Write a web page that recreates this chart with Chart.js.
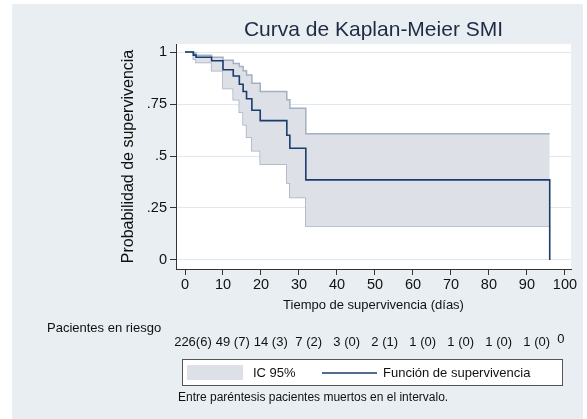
<!DOCTYPE html>
<html>
<head>
<meta charset="utf-8">
<script src="https://cdn.jsdelivr.net/npm/chart.js@4.4.1/dist/chart.umd.min.js"></script>
<style>
  html, body { margin: 0; padding: 0; background: #fff; }
  canvas { display: block; }
</style>
</head>
<body>
<canvas id="km" width="587" height="419"></canvas>
<script>
// Kaplan-Meier SMI, values
var survTime = [0, 2.2, 2.9, 7, 10, 12.7, 14.3, 15.3, 16.2, 17.6, 19.8, 26.8, 27.6, 31.8, 96];
var survProb = [1, 0.985, 0.975, 0.958, 0.915, 0.885, 0.845, 0.81, 0.775, 0.72, 0.67, 0.60, 0.537, 0.385, 0];

var ciTime  = [0, 2.2, 2.9, 7, 10, 12.7, 14.3, 15.3, 16.2, 17.6, 19.8, 26.8, 27.6, 31.8, 96];
var ciUpper = [1, 0.995, 0.985, 0.975, 0.96, 0.945, 0.93, 0.91, 0.89, 0.85, 0.81, 0.77, 0.73, 0.607, 0.607];
var ciLower = [1, 0.965, 0.95, 0.91, 0.825, 0.77, 0.71, 0.65, 0.59, 0.525, 0.46, 0.37, 0.30, 0.163, 0.163];

var xTicks = [0, 10, 20, 30, 40, 50, 60, 70, 80, 90, 100];
var yTicks = [0, 0.25, 0.5, 0.75, 1];
var yTickLabels = ['0', '.25', '.5', '.75', '1'];

// numbers at risk and deaths in each interval
var riskN = ['226', '49', '14', '7', '3', '2', '1', '1', '1', '1', '0'];
var riskDeaths = [6, 7, 3, 2, 0, 1, 0, 0, 0, 0, null];

var FONT = "'Liberation Sans', Arial, sans-serif";
var NAVY = '#1a3d6d';
var BAND = '#dde1e7';
var BAND_EDGE = '#a2b0c1';

function pts(xs, ys) {
  return xs.map(function (x, i) { return { x: x, y: ys[i] }; });
}

var frame = {
  id: 'frame',
  beforeDraw: function (chart) {
    var c = chart.ctx, a = chart.chartArea;
    c.save();
    c.fillStyle = '#e8eef1';
    c.fillRect(12, 4, 571, 415);
    c.fillStyle = '#fff';
    c.fillRect(a.left, a.top, a.right - a.left, a.bottom - a.top);
    c.restore();
  },
  afterDraw: function (chart) {
    var c = chart.ctx, xs = chart.scales.x;
    c.save();
    c.fillStyle = '#111';
    c.textBaseline = 'middle';
    c.font = '13px ' + FONT;
    c.textAlign = 'left';
    c.fillText('Pacientes en riesgo', 47, 328);

    for (var i = 0; i < riskN.length; i++) {
      var px = xs.getPixelForValue(xTicks[i]);
      var n = riskN[i];
      c.textAlign = 'center';
      if (riskDeaths[i] === null) {
        c.fillText(n, px - 4, 339);
        continue;
      }
      c.fillText(n, px, 342);
      var w = c.measureText(n).width;
      c.textAlign = 'left';
      c.fillText((i === 0 ? '' : ' ') + '(' + riskDeaths[i] + ')', px + w / 2, 342);
    }

    // legend box
    c.fillStyle = '#fff';
    c.fillRect(182, 359, 380, 26);
    c.strokeStyle = '#555';
    c.lineWidth = 1;
    c.strokeRect(182.5, 359.5, 380, 26);
    c.fillStyle = BAND;
    c.fillRect(187, 365, 56, 15);
    c.strokeStyle = NAVY;
    c.lineWidth = 1.5;
    c.beginPath();
    c.moveTo(322, 373);
    c.lineTo(377, 373);
    c.stroke();
    c.fillStyle = '#111';
    c.textAlign = 'left';
    c.fillText('IC 95%', 253, 373);
    c.fillText('Función de supervivencia', 383, 373);

    c.font = '12px ' + FONT;
    c.fillText('Entre paréntesis pacientes muertos en el intervalo.', 178, 398);
    c.restore();
  }
};

new Chart(document.getElementById('km'), {
  type: 'line',
  data: {
    datasets: [
      { label: 'Función de supervivencia', data: pts(survTime, survProb), borderColor: NAVY, borderWidth: 1.6,
        stepped: 'before', pointRadius: 0, fill: false },
      { label: 'IC 95% superior', data: pts(ciTime, ciUpper), borderColor: BAND_EDGE, borderWidth: 1.5,
        stepped: 'before', pointRadius: 0, fill: '+1', backgroundColor: BAND },
      { label: 'IC 95% inferior', data: pts(ciTime, ciLower), borderColor: BAND_EDGE, borderWidth: 1.5,
        stepped: 'before', pointRadius: 0, fill: false }
    ]
  },
  options: {
    responsive: false,
    animation: false,
    layout: { padding: { left: 115, top: 8, right: 16, bottom: 105 } },
    plugins: {
      legend: { display: false },
      tooltip: { enabled: false },
      title: {
        display: true,
        text: 'Curva de Kaplan-Meier SMI',
        color: '#1f2a44',
        font: { size: 21, family: FONT, weight: 'normal' },
        padding: { top: 9.4, bottom: 1.4 },
        fullSize: false
      }
    },
    scales: {
      x: {
        type: 'linear',
        min: -2.37,
        max: 101.6,
        afterBuildTicks: function (s) { s.ticks = xTicks.map(function (v) { return { value: v }; }); },
        afterFit: function (s) { s.height = 45; },
        grid: { drawOnChartArea: false, tickLength: 6, tickColor: '#333' },
        border: { color: '#333', width: 1 },
        ticks: { padding: 1, color: '#111', maxRotation: 0, autoSkip: false,
                 font: { size: 14.5, family: FONT } },
        title: { display: true, text: 'Tiempo de supervivencia (días)', color: '#111',
                 font: { size: 13, family: FONT }, padding: { top: 0, bottom: 1.2 } }
      },
      y: {
        type: 'linear',
        min: -0.0433,
        max: 1.0385,
        afterBuildTicks: function (s) { s.ticks = yTicks.map(function (v) { return { value: v }; }); },
        afterFit: function (s) { s.width = 61; },
        grid: { color: '#e1e8ed', lineWidth: 1, tickLength: 6, tickColor: '#333' },
        border: { color: '#333', width: 1 },
        ticks: { padding: 3, color: '#111', font: { size: 14.5, family: FONT },
                 callback: function (v) { return yTickLabels[yTicks.indexOf(v)]; } },
        title: { display: true, text: 'Probabilidad de supervivencia', color: '#111',
                 font: { size: 16, family: FONT }, padding: { top: 4, bottom: 4 } }
      }
    }
  },
  plugins: [frame]
});
</script>
</body>
</html>
